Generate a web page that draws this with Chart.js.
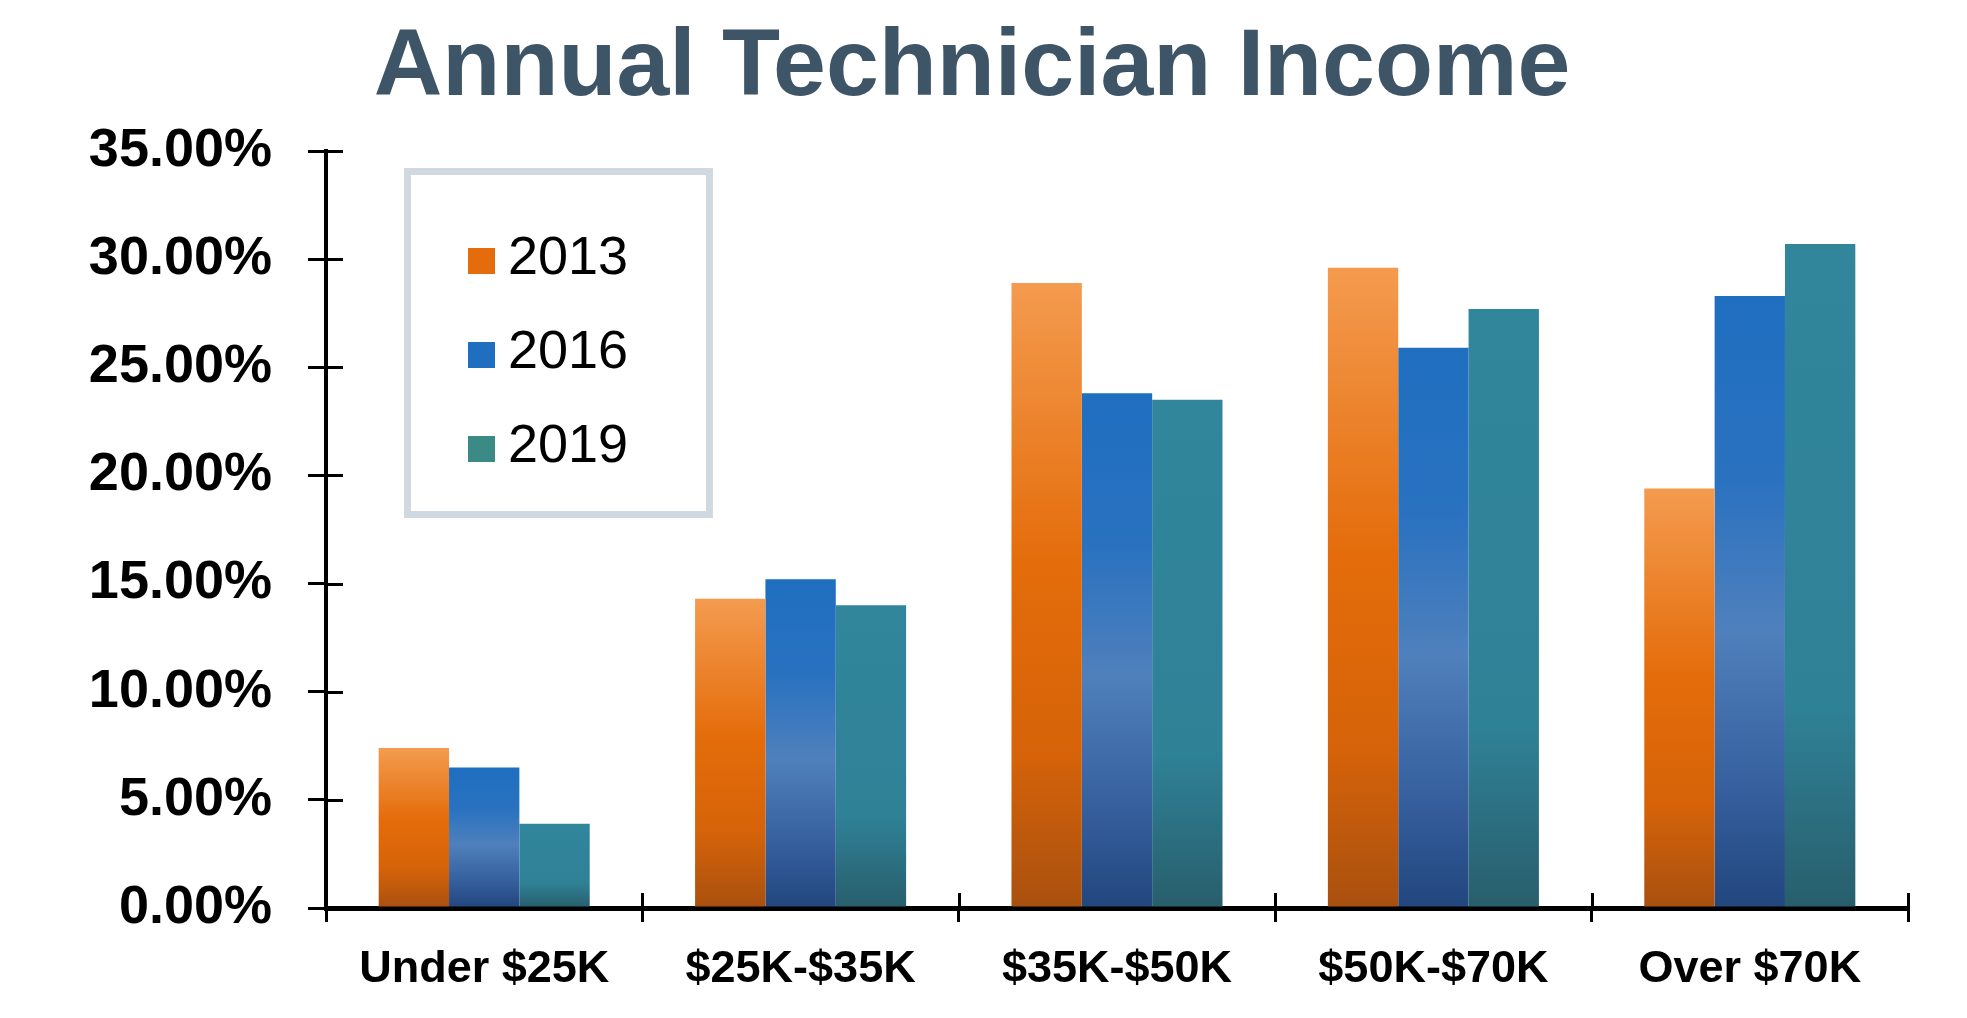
<!DOCTYPE html>
<html>
<head>
<meta charset="utf-8">
<title>Annual Technician Income</title>
<script src="https://cdn.jsdelivr.net/npm/chart.js@4.4.1/dist/chart.umd.min.js"></script>
<style>
    html, body { margin: 0; padding: 0; background: #ffffff; }
    #wrap { width: 1967px; height: 1018px; }
</style>
</head>
<body>
<div id="wrap"><canvas id="income" width="1967" height="1018"></canvas></div>
<script>
const categories = ['Under $25K', '$25K-$35K', '$35K-$50K', '$50K-$70K', 'Over $70K'];
const years = ['2013', '2016', '2019'];
const share2013 = [7.4, 14.3, 28.9, 29.6, 19.4];
const share2016 = [6.5, 15.2, 23.8, 25.9, 28.3];
const share2019 = [3.9, 14.0, 23.5, 27.7, 30.7];
const yTicks = [0, 5, 10, 15, 20, 25, 30, 35];

const FONT = "'Liberation Sans', Arial, sans-serif";

// gradient stops per series, top of bar -> bottom of bar
const palettes = [
    { solid: '#e46c0a', stops: [[0, '#f49b4f'], [0.45, '#e46c0a'], [0.75, '#d66309'], [1, '#a9500f']] },
    { solid: '#1f6ec0', stops: [[0, '#1f6ec0'], [0.3, '#2a72c0'], [0.55, '#4f80bc'], [0.8, '#36609e'], [1, '#22467e']] },
    { solid: '#31869b', stops: [[0, '#31869b'], [0.7, '#2f8196'], [1, '#285e6c']] }
];
const legendColors = ['#e46c0a', '#1f6ec0', '#3b8a86'];

function barFill(seriesIndex) {
    const pal = palettes[seriesIndex];
    return (ctx) => {
        const chart = ctx.chart;
        if (ctx.type !== 'data' || !chart.chartArea) return pal.solid;
        const y = chart.scales.y;
        const top = y.getPixelForValue(ctx.dataset.data[ctx.dataIndex]);
        const bottom = y.getPixelForValue(0);
        const g = chart.ctx.createLinearGradient(0, top, 0, bottom);
        for (const [stop, color] of pal.stops) g.addColorStop(stop, color);
        return g;
    };
}

// ticks that cross the axis lines (Chart.js only draws the outer half)
const innerTicks = {
    id: 'innerTicks',
    afterDraw(chart) {
        const { ctx, chartArea, scales } = chart;
        ctx.save();
        ctx.strokeStyle = '#000';
        ctx.lineWidth = 3;
        ctx.beginPath();
        for (const v of yTicks) {
            const py = Math.round(scales.y.getPixelForValue(v)) + 0.5;
            ctx.moveTo(chartArea.left, py);
            ctx.lineTo(chartArea.left + 17, py);
        }
        const step = (chartArea.right - chartArea.left) / categories.length;
        for (let i = 0; i <= categories.length; i++) {
            const px = Math.round(chartArea.left + i * step) + 0.5;
            ctx.moveTo(px, chartArea.bottom);
            ctx.lineTo(px, chartArea.bottom - 15);
        }
        ctx.stroke();
        ctx.restore();
    }
};

// boxed legend sitting inside the plot area, top left
const boxLegend = {
    id: 'boxLegend',
    afterDraw(chart) {
        const { ctx, chartArea } = chart;
        const left = chartArea.left + 78;
        const top = chartArea.top + 17;
        ctx.save();
        ctx.strokeStyle = '#cfd9df';
        ctx.lineWidth = 7;
        ctx.strokeRect(left + 3.5, top + 3.5, 302, 343);
        ctx.font = `54px ${FONT}`;
        ctx.textBaseline = 'alphabetic';
        ctx.textAlign = 'left';
        years.forEach((label, i) => {
            const base = top + 106 + i * 94;
            ctx.fillStyle = legendColors[i];
            ctx.fillRect(left + 64, base - 26, 27, 26);
            ctx.fillStyle = '#000';
            ctx.fillText(label, left + 104, base);
        });
        ctx.restore();
    }
};

const seriesValues = [share2013, share2016, share2019];

const chart = new Chart(document.getElementById('income'), {
    type: 'bar',
    data: {
        labels: categories,
        datasets: years.map((year, i) => ({
            label: year,
            data: seriesValues[i],
            backgroundColor: barFill(i),
            borderWidth: 0,
            categoryPercentage: 0.667,
            barPercentage: 1.0
        }))
    },
    options: {
        responsive: false,
        animation: false,
        devicePixelRatio: 1,
        layout: { padding: { left: 36, right: 59, top: 0, bottom: 0 } },
        plugins: {
            legend: { display: false },
            tooltip: { enabled: false },
            title: {
                display: true,
                text: 'Annual Technician Income',
                color: '#3e5467',
                font: { family: FONT, size: 95, weight: 'bold', lineHeight: 1.2 },
                padding: { top: 11.8, bottom: 25.2 }
            }
        },
        scales: {
            x: {
                afterFit: (scale) => { scale.height = 110; },
                border: { display: true, color: '#000', width: 5 },
                grid: { offset: true, drawOnChartArea: false, drawTicks: true, tickLength: 14, color: '#000', lineWidth: 3 },
                ticks: {
                    color: '#000',
                    padding: 21,
                    maxRotation: 0,
                    font: { family: FONT, size: 45, weight: 'bold' }
                }
            },
            y: {
                min: 0,
                max: 35,
                afterFit: (scale) => { scale.width = 290; },
                afterBuildTicks: (scale) => { scale.ticks = yTicks.map((v) => ({ value: v })); },
                border: { display: true, color: '#000', width: 4 },
                grid: { drawOnChartArea: false, drawTicks: true, tickLength: 18, color: '#000', lineWidth: 3 },
                ticks: {
                    color: '#000',
                    padding: 36,
                    font: { family: FONT, size: 54, weight: 'bold' },
                    callback: (value) => `${Number(value).toFixed(2)}%`
                }
            }
        }
    },
    plugins: [innerTicks, boxLegend]
});
</script>
</body>
</html>
